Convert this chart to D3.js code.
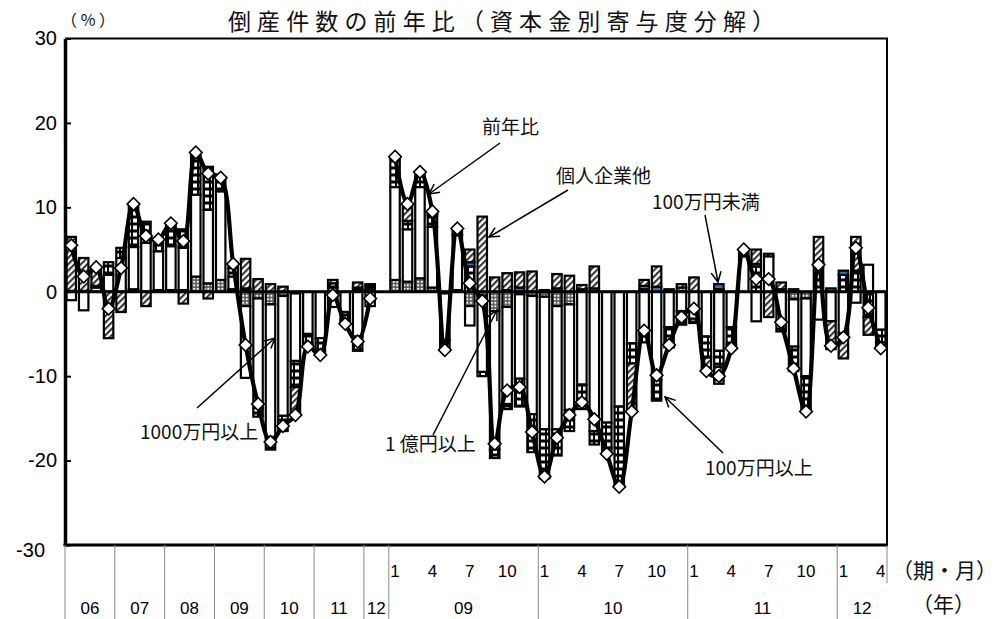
<!DOCTYPE html>
<html>
<head>
<meta charset="utf-8">
<script src="https://cdn.jsdelivr.net/npm/d3@7"></script>
<style>
	body { margin: 0; background: #fff; }
	svg { display: block; font-family: "Liberation Sans", Arial, "Noto Sans CJK JP", sans-serif; }
	.jp { font-family: "Noto Sans CJK JP", "Liberation Sans", sans-serif; }
</style>
</head>
<body>
<svg id="chart" width="1005" height="619"></svg>
<script>
// 06Q1..12Q1 (quarterly), one blank slot, then 09/1..12/4 (monthly)
var periodLabels = [
	"", "", "", "", "", "", "", "", "", "", "", "", "", "", "", "", "", "", "", "", "", "", "", "", "", "",
	"1", "", "", "4", "", "", "7", "", "", "10", "", "",
	"1", "", "", "4", "", "", "7", "", "", "10", "", "",
	"1", "", "", "4", "", "", "7", "", "", "10", "", "",
	"1", "", "", "4"
];
var yearLabels = ["06", "07", "08", "09", "10", "11", "12", "09", "10", "11", "12"];
var yearSpans = [4, 4, 4, 4, 4, 4, 2, 12, 12, 12, 4];
var yTicks = [-30, -20, -10, 0, 10, 20, 30];

// 前年比
var total = [
	5.5, 1.8, 2.9, -2.0, 2.8, 10.4, 6.6, 6.2, 8.1, 6.0, 16.5, 14.0, 13.5, 3.3, -6.3, -13.3, -17.8, -15.9, -14.6, -6.5, -7.5, -0.4, -3.8, -5.9, -0.8, null,
	16.0, 10.4, 14.2, 9.5, -6.9, 7.5, 1.0, -1.1, -18.0, -11.7, -11.3, -16.6,
	-21.9, -17.3, -14.6, -13.1, -15.1, -19.2, -23.1, -14.2, -4.6, -9.9, -6.3, -3.0,
	-2.0, -9.4, -10.0, -6.7, 5.0, 1.5, 1.5, -3.6, -9.1, -14.2, 3.2, -6.4,
	-5.4, 5.2, -1.9, -6.7
];
// 1億円以上
var over100m = [
	0.1, 0.1, 0, 0, 0, 0.3, 0, 0.2, 0.2, 0.2, 1.8, 1.0, 1.4, 0.3, -1.7, -0.8, -1.5, -0.5, -0.2, 0, 0, 0.5, 0, 0.3, 0.3, null,
	1.4, 1.2, 1.6, 0.5, -0.2, 0.2, -1.7, -0.5, -2.3, -1.8, -0.3, -0.5,
	-0.6, -1.7, -1.5, 0.3, 0, 0, 0, 0, 0.3, 0, 0.3, 0.5,
	0, 0, 0.3, 0, 0, 0, 0, 0.3, -0.9, -0.8, 0, 0,
	0, 0, 0, 0
];
// 1000万円以上
var over10m = [
	-1.0, -2.2, 0.5, 2.0, 4.0, 5.0, 5.8, 4.6, 5.2, 5.0, 9.7, 8.7, 10.5, 1.5, -8.5, -13.0, -15.7, -14.2, -8.0, -5.0, -5.5, -1.8, -2.4, -5.3, -1.7, null,
	11.0, 6.2, 10.8, 7.2, -5.5, 6.5, -2.3, -9.0, -16.4, -11.5, -10.0, -14.0,
	-15.7, -14.6, -12.5, -11.0, -16.5, -15.5, -13.6, -6.1, -5.0, -10.5, -4.2, -2.3,
	-3.2, -5.3, -7.0, -4.2, 4.2, -3.5, 4.2, -3.5, -5.6, -9.2, -3.3, -3.5,
	-4.9, -1.3, 3.2, -4.5
];
// 100万円以上
var over1m = [
	0, 0, 0.2, 1.5, 1.2, 5.1, 2.5, 1.4, 2.7, 2.2, 5.0, 5.1, 1.6, 1.0, 0.3, -1.0, -1.5, -1.8, -3.1, -1.2, -1.5, 0.5, -1.0, -1.7, 0.4, null,
	3.6, 1.0, 1.8, 1.3, -1.2, 0.8, 3.0, -0.5, -1.0, -0.6, -3.3, -4.5,
	-5.8, -3.1, -2.5, -2.9, -1.6, -3.0, -9.3, -2.4, -1.0, -2.4, -2.4, -1.6,
	-0.5, -2.5, -1.9, -2.0, 0.8, 3.0, 0.3, -1.2, -2.9, -4.2, 3.4, 0,
	2.0, 2.5, -3.0, -1.5
];
// 100万円未満
var under1m = [
	0, 0, 0, 0, 0, 0, 0, 0, 0, 0, 0, 0, 0, 0, 0.1, 0, 0, 0, 0, 0, 0, 0, 0, 0.2, 0, null,
	0, 0, 0, 0.2, 0, 0, 0.5, 0, 0, 0.2, 0.5, 0,
	0, 0.4, 0, 0, 0.4, 0, 0, 0, 0.4, 0.6, 0, 0,
	0, 0, 0.6, 0, 0, 0.3, 0, 0, 0.3, 0, 0, 0.4,
	0.5, 0, 0, 0
];
// 個人企業他
var kojin = [
	6.4, 3.9, 2.2, -5.5, -2.4, 0, -1.7, 0, 0, -1.4, 0, -0.8, 0, 0.5, 3.5, 1.5, 0.9, 0.6, -3.3, -0.3, -0.5, 0.4, -0.4, 0.6, 0.2, null,
	0, 2.0, 0, 0.3, 0, 0, 1.5, 8.9, 1.7, 2.0, 1.8, 2.4,
	0.2, 1.7, 1.9, 0.5, 2.6, -0.7, -0.2, -5.7, 0.7, 2.4, 0, 0.4,
	1.7, -1.6, -2.0, -0.5, 0, 1.7, -3.0, 0.8, 0, 0, 3.1, -3.3,
	-3.0, 4.0, -2.1, -0.7
];

var keys = ["over100m", "over10m", "over1m", "under1m", "kojin"];
var fills = {
	over100m : "url(#dots)",
	over10m : "#ffffff",
	over1m : "url(#checker)",
	under1m : "#1b7dc2",
	kojin : "url(#hatch)"
};

var svg = d3.select('#chart');
var plot = { left : 65, right : 887, top : 38.5, bottom : 545 };

var rows = d3.range(total.length).map(function(i) {
	return {
		i : i,
		total : total[i],
		over100m : over100m[i] || 0,
		over10m : over10m[i] || 0,
		over1m : over1m[i] || 0,
		under1m : under1m[i] || 0,
		kojin : kojin[i] || 0
	};
});

var x = d3.scaleBand()
	.domain(d3.range(total.length))
	.range([plot.left, plot.right])
	.paddingInner(0.24)
	.paddingOuter(0.12);
var y = d3.scaleLinear().domain([-30, 30]).range([plot.bottom, plot.top]);
var bw = x.bandwidth();
var cx = function(i) { return x(i) + bw / 2; };

// patterns
var defs = svg.append('defs');

var hatch = defs.append('pattern').attr('id', "hatch")
	.attr('patternUnits', "userSpaceOnUse").attr('width', 4.5).attr('height', 4.5)
	.attr('patternTransform', "rotate(45)");
hatch.append('rect').attr('width', 4.5).attr('height', 4.5).attr('fill', "#fff");
hatch.append('line').attr('x1', 1).attr('x2', 1).attr('y1', 0).attr('y2', 4.5)
	.attr('stroke', "#333").attr('stroke-width', 2.2);

var dots = defs.append('pattern').attr('id', "dots")
	.attr('patternUnits', "userSpaceOnUse").attr('width', 3.5).attr('height', 3.5);
dots.append('rect').attr('width', 3.5).attr('height', 3.5).attr('fill', "#555");
dots.append('rect').attr('x', 0.8).attr('y', 0.8).attr('width', 2).attr('height', 2).attr('fill', "#fff");

var checker = defs.append('pattern').attr('id', "checker")
	.attr('patternUnits', "userSpaceOnUse").attr('width', 6).attr('height', 7);
checker.append('rect').attr('width', 6).attr('height', 7).attr('fill', "#000");
checker.append('rect').attr('x', 1).attr('y', 1.5).attr('width', 4).attr('height', 4).attr('fill', "#fff");

defs.append('marker').attr('id', "arrow")
	.attr('markerUnits', "userSpaceOnUse")
	.attr('viewBox', "0 0 12 12").attr('refX', 11).attr('refY', 6)
	.attr('markerWidth', 12).attr('markerHeight', 12)
	.attr('orient', "auto")
	.append('path').attr('d', "M1,1 L11,6 L1,11")
	.attr('fill', "none").attr('stroke', "#000").attr('stroke-width', 1.5);

// plot frame (top and right)
svg.append('path')
	.attr('d', "M" + plot.left + "," + plot.top + " H" + plot.right + " V" + plot.bottom)
	.attr('fill', "none").attr('stroke', "#000").attr('stroke-width', 2);

// stacked bars
var series = d3.stack().keys(keys).offset(d3.stackOffsetDiverging)(rows);

svg.append('g').attr('class', "bars")
	.selectAll('g').data(series).join('g')
	.attr('fill', function(s) { return fills[s.key]; })
	.selectAll('rect')
	.data(function(s) {
		return s.filter(function(d) { return d.data.total != null && d[1] !== d[0]; });
	})
	.join('rect')
	.attr('x', function(d) { return x(d.data.i); })
	.attr('width', bw)
	.attr('y', function(d) { return y(Math.max(d[0], d[1])); })
	.attr('height', function(d) { return Math.abs(y(d[0]) - y(d[1])); })
	.attr('stroke', "#000")
	.attr('stroke-width', 2.2);

// zero line
svg.append('line')
	.attr('x1', plot.left).attr('x2', plot.right)
	.attr('y1', y(0)).attr('y2', y(0))
	.attr('stroke', "#000").attr('stroke-width', 3);

// y axis
var yAxis = svg.append('g')
	.attr('transform', "translate(" + plot.left + ",0)")
	.call(d3.axisLeft(y).tickValues(yTicks).tickSizeInner(-6).tickSizeOuter(0).tickPadding(8)
		.tickFormat(function(d) { return d; }));
yAxis.select('.domain').attr('stroke-width', 3.5);
yAxis.selectAll('.tick line').attr('stroke-width', 2);
yAxis.selectAll('.tick text').attr('font-size', 20).attr('fill', "#000");
// the bottom label sits a little further out in the reference
yAxis.selectAll('.tick text').filter(function(d) { return d === -30; })
	.attr('x', -20).attr('dy', "0.55em");

// bottom border
svg.append('line')
	.attr('x1', plot.left - 1.5).attr('x2', plot.right + 1)
	.attr('y1', plot.bottom).attr('y2', plot.bottom)
	.attr('stroke', "#000").attr('stroke-width', 3);

// 前年比 line with diamond markers
var line = d3.line()
	.defined(function(d) { return d.total != null; })
	.x(function(d) { return cx(d.i); })
	.y(function(d) { return y(d.total); })
	.curve(d3.curveCatmullRom.alpha(0.5));

svg.append('path')
	.datum(rows)
	.attr('d', line)
	.attr('fill', "none")
	.attr('stroke', "#000")
	.attr('stroke-width', 4.2)
	.attr('stroke-linejoin', "round");

svg.append('g').attr('class', "markers")
	.selectAll('path')
	.data(rows.filter(function(d) { return d.total != null; }))
	.join('path')
	.attr('d', d3.symbol(d3.symbolSquare, 80))
	.attr('transform', function(d) { return "translate(" + cx(d.i) + "," + y(d.total) + ") rotate(45)"; })
	.attr('fill', "#fff")
	.attr('stroke', "#000")
	.attr('stroke-width', 1.6);

// x axis: period row and year row
var xAxis = svg.append('g').attr('class', "x-axis");

xAxis.selectAll('text.period')
	.data(rows.filter(function(d) { return periodLabels[d.i] !== ""; }))
	.join('text')
	.attr('class', "period")
	.attr('x', function(d) { return cx(d.i); })
	.attr('y', 577)
	.attr('text-anchor', "middle")
	.attr('font-size', 17)
	.text(function(d) { return periodLabels[d.i]; });

var start = 0;
var groups = yearSpans.map(function(n, k) {
	var g = { label : yearLabels[k], from : start, to : start + n - 1 };
	start += n;
	return g;
});

xAxis.selectAll('line.sep')
	.data(groups)
	.join('line')
	.attr('class', "sep")
	.attr('x1', function(g) { return x(g.from) - x.step() * x.paddingInner() / 2; })
	.attr('x2', function(g) { return x(g.from) - x.step() * x.paddingInner() / 2; })
	.attr('y1', plot.bottom)
	.attr('y2', 619)
	.attr('stroke', "#8a8a8a")
	.attr('stroke-width', 1);

xAxis.append('line')
	.attr('x1', plot.right).attr('x2', plot.right)
	.attr('y1', plot.bottom).attr('y2', 583)
	.attr('stroke', "#8a8a8a").attr('stroke-width', 1);

xAxis.selectAll('text.year')
	.data(groups)
	.join('text')
	.attr('class', "year")
	.attr('x', function(g) { return (x(g.from) + x(g.to) + bw) / 2; })
	.attr('y', 614)
	.attr('text-anchor', "middle")
	.attr('font-size', 17)
	.text(function(g) { return g.label; });

// titles and unit labels
var texts = [
	{ t : "倒産件数の前年比（資本金別寄与度分解）", x : 228, y : 30, size : 23, len : 547 },
	{ t : "（%）", x : 61, y : 26, size : 16, len : 54 },
	{ t : "（期・月）", x : 892, y : 578, size : 21, len : null },
	{ t : "（年）", x : 912, y : 612, size : 21, len : null },
	{ t : "前年比", x : 482, y : 134, size : 19, len : null },
	{ t : "個人企業他", x : 556, y : 183, size : 19, len : null },
	{ t : "100万円未満", x : 652, y : 209, size : 19, len : null },
	{ t : "1000万円以上", x : 140, y : 439, size : 19, len : null },
	{ t : "1 億円以上", x : 385, y : 451, size : 19, len : null },
	{ t : "100万円以上", x : 705, y : 475, size : 19, len : null }
];

svg.append('g').selectAll('text')
	.data(texts)
	.join('text')
	.attr('class', "jp")
	.attr('x', function(d) { return d.x; })
	.attr('y', function(d) { return d.y; })
	.attr('font-size', function(d) { return d.size; })
	.attr('textLength', function(d) { return d.len; })
	.attr('lengthAdjust', function(d) { return d.len ? "spacing" : null; })
	.attr('fill', "#111")
	.text(function(d) { return d.t; });

svg.append('text')
	.attr('class', "jp")
	.attr('x', 9).attr('y', 578)
	.attr('text-anchor', "end")
	.attr('font-size', 19)
	.text("）");

// annotation arrows
var arrows = [
	[500, 143, 429, 194],
	[568, 190, 489, 237],
	[705, 215, 718, 282],
	[197, 408, 275, 338],
	[433, 435, 497, 310],
	[723, 453, 665, 397]
];

svg.append('g').selectAll('line')
	.data(arrows)
	.join('line')
	.attr('x1', function(a) { return a[0]; })
	.attr('y1', function(a) { return a[1]; })
	.attr('x2', function(a) { return a[2]; })
	.attr('y2', function(a) { return a[3]; })
	.attr('stroke', "#000")
	.attr('stroke-width', 1.5)
	.attr('marker-end', "url(#arrow)");
</script>
</body>
</html>
